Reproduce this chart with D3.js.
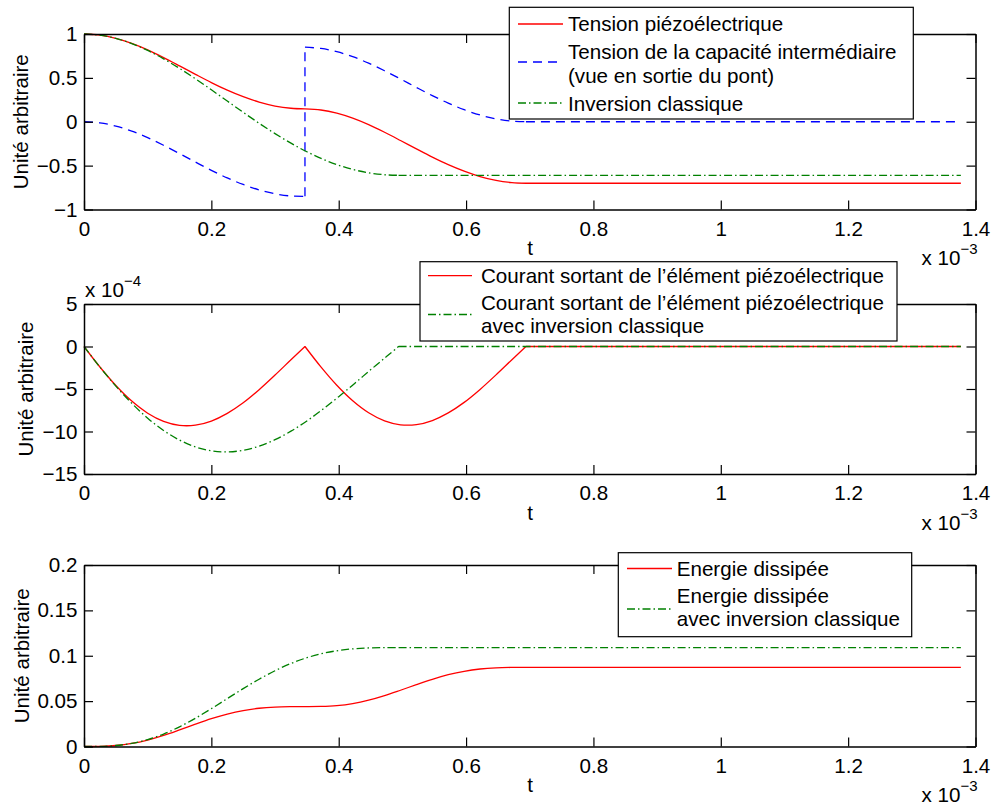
<!DOCTYPE html>
<html><head><meta charset="utf-8">
<script src="https://cdn.jsdelivr.net/npm/d3@7"></script>
<style>
body{margin:0;background:#fff}
text{font-family:"Liberation Sans",Arial,Helvetica,sans-serif}
</style></head>
<body><svg id="c" width="995" height="806"></svg>
<script>
// ---------- data (t in units of 1e-3 s) ----------
const tRed = [0,0.025,0.05,0.075,0.1,0.125,0.15,0.175,0.2,0.225,0.25,0.275,0.3,0.325,0.347,
  0.347,0.372,0.397,0.422,0.447,0.472,0.497,0.522,0.547,0.572,0.597,0.622,0.647,0.672,0.694,1.377];
const voltRed = [1,0.9873,0.9507,0.8931,0.8187,0.7315,0.6372,0.5406,0.4465,0.3599,0.2851,0.2235,0.1792,0.1536,0.1466,
  0.1466,0.1340,0.0976,0.0405,-0.0335,-0.1200,-0.2137,-0.3097,-0.4031,-0.4892,-0.5635,-0.6246,-0.6687,-0.6941,-0.7010,-0.7010];
const voltBlue = [0,-0.0127,-0.0493,-0.1069,-0.1813,-0.2685,-0.3628,-0.4594,-0.5535,-0.6401,-0.7149,-0.7765,-0.8208,-0.8464,-0.8500,
  0.8500,0.8350,0.7986,0.7415,0.6676,0.5810,0.4873,0.3913,0.2979,0.2118,0.1375,0.0764,0.0324,0.0069,0,0];
const currentRed = [0,-2.413,-4.587,-6.425,-7.846,-8.808,-9.276,-9.254,-8.767,-7.864,-6.619,-5.080,-3.359,-1.562,0,
  0,-2.397,-4.556,-6.381,-7.793,-8.748,-9.213,-9.191,-8.708,-7.811,-6.574,-5.046,-3.336,-1.551,0,0];
const energyRed = [0,0.00015,0.00109,0.00335,0.00713,0.01225,0.01831,0.02464,0.03064,0.03575,0.03961,0.04214,0.04348,0.04394,0.0440,
  0.0440,0.04414,0.04507,0.04729,0.05100,0.05603,0.06198,0.06819,0.07408,0.07910,0.08289,0.08538,0.08669,0.08714,0.0872,0.0872];

const tGreen = [0,0.025,0.05,0.075,0.1,0.125,0.15,0.175,0.2,0.225,0.25,0.275,0.3,0.325,0.35,0.375,0.4,0.425,0.45,0.475,0.494,1.377];
const voltGreen = [1,0.9873,0.9503,0.8911,0.8124,0.7170,0.6082,0.4892,0.3640,0.2355,0.1075,-0.0171,-0.1353,-0.2441,-0.3420,-0.4263,-0.4953,-0.5488,-0.5855,-0.6055,-0.6102,-0.6102];
const currentGreen = [0,-2.421,-4.664,-6.679,-8.429,-9.880,-11.010,-11.810,-12.270,-12.400,-12.210,-11.722,-10.962,-9.963,-8.757,-7.388,-5.906,-4.340,-2.747,-1.181,0,0];
const energyGreen = [0,0.00014,0.00109,0.00346,0.00763,0.01374,0.02169,0.03116,0.04171,0.05277,0.06376,0.07416,0.08351,0.09147,0.09784,0.10259,0.10582,0.10776,0.10867,0.10897,0.109,0.109];

const xTicks = [0,0.2,0.4,0.6,0.8,1,1.2,1.4];
const xTickLabels = ["0","0.2","0.4","0.6","0.8","1","1.2","1.4"];
const yTicks1 = [-1,-0.5,0,0.5,1];
const yTickLabels1 = ["\u22121","\u22120.5","0","0.5","1"];
const yTicks2 = [-15,-10,-5,0,5];
const yTickLabels2 = ["\u221215","\u221210","\u22125","0","5"];
const yTicks3 = [0,0.05,0.1,0.15,0.2];
const yTickLabels3 = ["0","0.05","0.1","0.15","0.2"];

const legend1 = ["Tension piézoélectrique", "Tension de la capacité intermédiaire", "(vue en sortie du pont)", "Inversion classique"];
const legend2 = ["Courant sortant de l\u2019élément piézoélectrique", "Courant sortant de l\u2019élément piézoélectrique", "avec inversion classique"];
const legend3 = ["Energie dissipée", "Energie dissipée", "avec inversion classique"];
const yAxisLabel = "Unité arbitraire";
const xAxisLabel = "t";

// ---------- styles ----------
const RED = "#ff0000", BLUE = "#0000ff", GREEN = "#008000";
const DASH = "9,6", DASHDOT = "8,3,1.5,3";
const FS = 20.6;

const svg = d3.select("#c");
svg.append("rect").attr("width",995).attr("height",806).attr("fill","#fff");

const x = d3.scaleLinear().domain([0,1.4]).range([84,975.5]);

const redPieces = [[0,14,"m"],[14,15,"l"],[15,29,"m"],[29,30,"l"]];
const greenPieces = [[0,20,"m"],[20,21,"l"]];

const panels = [
  {top:34,bottom:209.5,dom:[-1,1],yt:yTicks1,yl:yTickLabels1,ylabX:28,
   series:[{t:tRed,v:voltRed,c:RED,d:null,p:redPieces},{t:tRed,v:voltBlue,c:BLUE,d:DASH,p:redPieces},{t:tGreen,v:voltGreen,c:GREEN,d:DASHDOT,p:greenPieces}],
   legend:{x0:509.3,y0:7.3,x1:913.3,y1:119,sx0:518,sx1:563,tx:568,
     items:[{c:RED,d:null,sy:24},{c:BLUE,d:DASH,sy:62},{c:GREEN,d:DASHDOT,sy:103}],
     texts:[{s:legend1[0],y:30.8},{s:legend1[1],y:59.3},{s:legend1[2],y:83},{s:legend1[3],y:111}]}},
  {top:304,bottom:474,dom:[-15,5],yt:yTicks2,yl:yTickLabels2,ylabX:33,exp:"\u22124",
   series:[{t:tRed,v:currentRed,c:RED,d:null,p:redPieces},{t:tGreen,v:currentGreen,c:GREEN,d:DASHDOT,p:greenPieces}],
   legend:{x0:420,y0:261.7,x1:897,y1:341,sx0:428,sx1:472,tx:481,
     items:[{c:RED,d:null,sy:275.7},{c:GREEN,d:DASHDOT,sy:314.5}],
     texts:[{s:legend2[0],y:283.3},{s:legend2[1],y:309.5},{s:legend2[2],y:333.3}]}},
  {top:565,bottom:746.5,dom:[0,0.2],yt:yTicks3,yl:yTickLabels3,ylabX:29,
   series:[{t:tRed,v:energyRed,c:RED,d:null,p:redPieces},{t:tGreen,v:energyGreen,c:GREEN,d:DASHDOT,p:greenPieces}],
   legend:{x0:618.3,y0:552.7,x1:911.7,y1:636.7,sx0:627,sx1:672,tx:676.7,
     items:[{c:RED,d:null,sy:568.5},{c:GREEN,d:DASHDOT,sy:609}],
     texts:[{s:legend3[0],y:576},{s:legend3[1],y:602.7},{s:legend3[2],y:626}]}}
];

function styleAxis(g){
  g.attr("font-size",null).attr("font-family",null);
  g.selectAll(".domain").attr("stroke","#000").attr("stroke-width",1.5);
  g.selectAll(".tick line").attr("stroke","#000").attr("stroke-width",1.2);
  g.selectAll(".tick text").attr("fill","#000").style("font-size",FS+"px");
}

panels.forEach(P => {
  const y = d3.scaleLinear().domain(P.dom).range([P.bottom,P.top]);
  const g = svg.append("g");
  // series
  P.series.forEach(S => {
    const idx = d3.range(S.t.length);
    const d = S.p.map(([a,b,k]) => d3.line()
        .x(i => x(S.t[i])).y(i => y(S.v[i]))
        .curve(k==="m" ? d3.curveCatmullRom.alpha(0.5) : d3.curveLinear)(idx.slice(a,b+1))).join("");
    g.append("path").attr("d",d).attr("fill","none").attr("stroke",S.c)
      .attr("stroke-width",1.3).attr("stroke-dasharray",S.d);
  });
  // axes (box)
  const gb = g.append("g").attr("transform",`translate(0,${P.bottom})`)
    .call(d3.axisBottom(x).tickValues(xTicks).tickFormat((d,i)=>xTickLabels[i]).tickSize(-9).tickSizeOuter(0).tickPadding(11.5));
  styleAxis(gb);
  const gt = g.append("g").attr("transform",`translate(0,${P.top})`)
    .call(d3.axisTop(x).tickValues(xTicks).tickFormat("").tickSize(-9).tickSizeOuter(0));
  styleAxis(gt);
  const gl = g.append("g").attr("transform",`translate(${x(0)},0)`)
    .call(d3.axisLeft(y).tickValues(P.yt).tickFormat((d,i)=>P.yl[i]).tickSize(-9).tickSizeOuter(0).tickPadding(6.5));
  styleAxis(gl);
  const gr = g.append("g").attr("transform",`translate(${x(1.4)},0)`)
    .call(d3.axisRight(y).tickValues(P.yt).tickFormat("").tickSize(-9).tickSizeOuter(0));
  styleAxis(gr);
  // labels
  g.append("text").attr("x",530).attr("y",P.bottom+45.5).attr("text-anchor","middle")
    .style("font-size",FS+"px").text(xAxisLabel);
  g.append("text").attr("transform",`translate(${P.ylabX},${(P.top+P.bottom)/2}) rotate(-90)`)
    .attr("text-anchor","middle").style("font-size",FS+"px").text(yAxisLabel);
  const ex = g.append("text").attr("x",921.5).attr("y",P.bottom+55.5).style("font-size",FS+"px");
  ex.append("tspan").text("x 10");
  ex.append("tspan").attr("dy",-11).style("font-size","15px").text("\u22123");
  if (P.exp){
    const e2 = g.append("text").attr("x",85).attr("y",P.top-7.5).style("font-size",FS+"px");
    e2.append("tspan").text("x 10");
    e2.append("tspan").attr("dy",-11).style("font-size","15px").text(P.exp);
  }
  // legend
  const L = P.legend;
  g.append("rect").attr("x",L.x0).attr("y",L.y0).attr("width",L.x1-L.x0).attr("height",L.y1-L.y0)
    .attr("fill","#fff").attr("stroke","#000").attr("stroke-width",1.2);
  L.items.forEach(it => {
    g.append("line").attr("x1",L.sx0).attr("x2",L.sx1).attr("y1",it.sy).attr("y2",it.sy)
      .attr("stroke",it.c).attr("stroke-width",1.3).attr("stroke-dasharray",it.d);
  });
  L.texts.forEach(tx => {
    g.append("text").attr("x",L.tx).attr("y",tx.y).style("font-size",FS+"px").text(tx.s);
  });
});
</script>
</body></html>
